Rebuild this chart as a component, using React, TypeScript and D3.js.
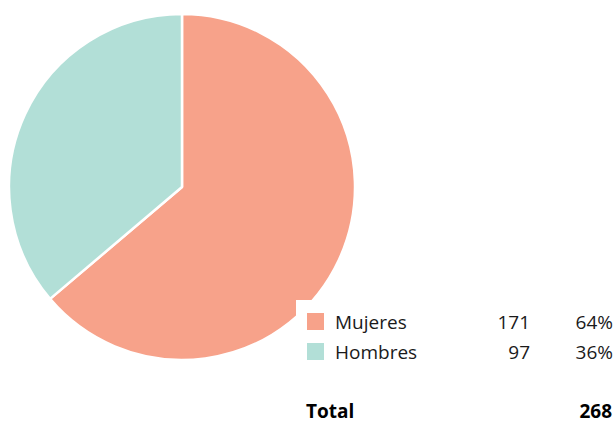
import React, { useEffect, useRef } from 'react'
import * as d3 from 'd3'

// datos del gráfico
const categories = ['Mujeres', 'Hombres']
const values = [171, 97]
const percents = ['64%', '36%']
const colors = ['#F7A28A', '#B2DFD7']
const totalLabel = 'Total'
const totalValue = 268

export default function App() {
  const ref = useRef<SVGSVGElement>(null)

  useEffect(() => {
    const w = 614
    const h = 423
    const svg = d3.select(ref.current)
    svg.selectAll('*').remove()

    const cx = 182
    const cy = 187
    const radius = 173

    // pie, starting at 12 o'clock, clockwise
    const pie = d3.pie<number>().sort(null).value((d) => d)
    const arc = d3.arc<d3.PieArcDatum<number>>().innerRadius(0).outerRadius(radius)

    const g = svg.append('g').attr('transform', 'translate(' + cx + ',' + cy + ')')
    g.selectAll('path')
      .data(pie(values))
      .join('path')
      .attr('d', arc)
      .attr('fill', (d, i) => colors[i])
      .attr('stroke', 'white')
      .attr('stroke-width', 2.5)
      .attr('stroke-linejoin', 'round')

    // white legend panel that sits over the pie
    const legend = svg.append('g')
    legend
      .append('rect')
      .attr('x', 296)
      .attr('y', 300)
      .attr('width', w - 296)
      .attr('height', h - 300)
      .attr('fill', 'white')

    const rowY = d3.scaleBand<string>().domain(categories).range([306, 366]).padding(0)
    const font = "'Open Sans', 'Noto Sans', sans-serif"
    const fs = 19

    categories.forEach((c, i) => {
      const y = rowY(c) as number
      legend
        .append('rect')
        .attr('x', 307)
        .attr('y', y + 7)
        .attr('width', 17)
        .attr('height', 17)
        .attr('fill', colors[i])
      const base = y + 23
      legend
        .append('text')
        .attr('x', 335)
        .attr('y', base)
        .attr('font-family', font)
        .attr('font-size', fs)
        .attr('fill', '#1a1a1a')
        .text(c)
      legend
        .append('text')
        .attr('x', 530)
        .attr('y', base)
        .attr('text-anchor', 'end')
        .attr('font-family', font)
        .attr('font-size', fs)
        .attr('fill', '#1a1a1a')
        .text(values[i])
      legend
        .append('text')
        .attr('x', 613)
        .attr('y', base)
        .attr('text-anchor', 'end')
        .attr('font-family', font)
        .attr('font-size', fs)
        .attr('fill', '#1a1a1a')
        .text(percents[i])
    })

    // total row (sits right at the bottom edge, like the original)
    legend
      .append('text')
      .attr('x', 306)
      .attr('y', 418)
      .attr('font-family', font)
      .attr('font-size', fs)
      .attr('font-weight', 'bold')
      .attr('fill', '#000')
      .text(totalLabel)
    legend
      .append('text')
      .attr('x', 612)
      .attr('y', 418)
      .attr('text-anchor', 'end')
      .attr('font-family', font)
      .attr('font-size', fs)
      .attr('font-weight', 'bold')
      .attr('fill', '#000')
      .text(totalValue)
  }, [])

  return (
    <svg
      ref={ref}
      width={614}
      height={423}
      style={{ position: 'absolute', left: 0, top: 0, background: 'white' }}
    />
  )
}
